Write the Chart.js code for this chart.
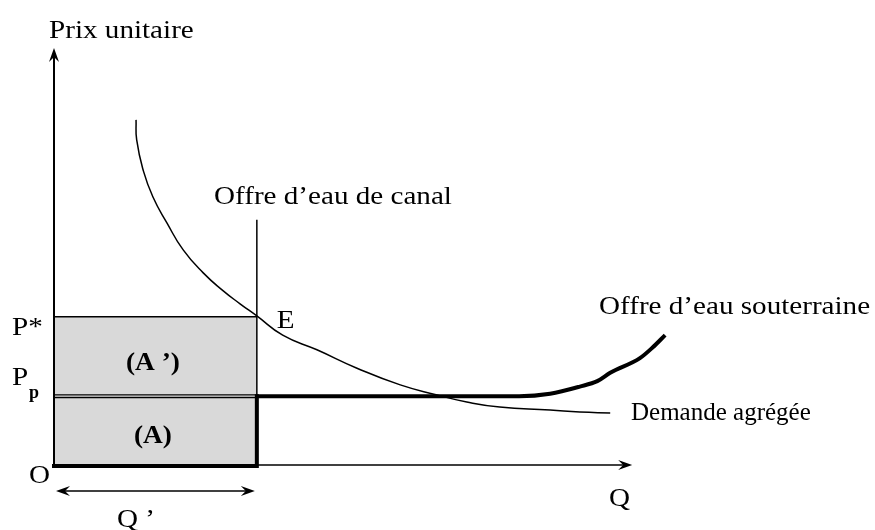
<!DOCTYPE html>
<html>
<head>
<meta charset="utf-8">
<script src="https://cdn.jsdelivr.net/npm/chart.js@4"></script>
<style>
  body { margin: 0; background: #fff; }
  canvas { display: block; }
</style>
</head>
<body>
<canvas id="chart" width="875" height="530"></canvas>
<script>
// key levels (arbitrary units, origin = O)
const qPrime = 31.4;      // Q'
const pStar = 35.7;       // P*
const pP = 16.7;          // Pp
const canalTop = 58.9;
const xAxisEnd = 89.5;
const yAxisEnd = 100;

// demande agrégée
const demandQ = [12.7, 12.8, 13.8, 15.3, 17.5, 20.0, 23.1, 26.2, 28.8, 31.4, 35.4, 40.7, 46.9, 53.6, 59.3, 63.9, 69.0, 76.8, 81.4, 86.1];
const demandP = [82.8, 78.0, 70.8, 64.4, 58.1, 51.7, 46.2, 41.9, 38.8, 35.9, 31.3, 27.8, 23.4, 19.4, 17.0, 15.3, 14.1, 13.4, 12.9, 12.7];

// offre d'eau souterraine (after the flat part)
const groundQ = [qPrime, 72.0, 76.8, 81.4, 84.1, 86.1, 90.7, 92.7, 94.6];
const groundP = [pP, pP, 17.3, 19.0, 20.3, 22.3, 25.8, 28.4, 31.3];

const toPoints = (xs, ys) => xs.map((x, i) => ({ x: x, y: ys[i] }));

const serif = '"Liberation Serif", "Times New Roman", serif';

function stretchText(ctx, text, x, y, size, bold, sx) {
    ctx.save();
    ctx.font = (bold ? 'bold ' : '') + size + 'px ' + serif;
    ctx.fillStyle = '#000';
    ctx.textBaseline = 'alphabetic';
    ctx.translate(x, y);
    ctx.scale(sx, 1);
    ctx.fillText(text, 0, 0);
    ctx.restore();
}

function arrowHead(ctx, x, y, dir) {
    ctx.beginPath();
    if (dir === 'up') {
        ctx.moveTo(x - 5, y + 14);
        ctx.lineTo(x, y);
        ctx.lineTo(x + 5, y + 14);
        ctx.lineTo(x, y + 9);
    } else if (dir === 'right') {
        ctx.moveTo(x - 14, y - 5);
        ctx.lineTo(x, y);
        ctx.lineTo(x - 14, y + 5);
        ctx.lineTo(x - 9, y);
    } else {
        ctx.moveTo(x + 14, y - 5);
        ctx.lineTo(x, y);
        ctx.lineTo(x + 14, y + 5);
        ctx.lineTo(x + 9, y);
    }
    ctx.closePath();
    ctx.fill();
}

const diagramPlugin = {
    id: 'diagram',
    afterDatasetsDraw(chart) {
        const ctx = chart.ctx;
        const xs = chart.scales.x;
        const ys = chart.scales.y;
        const x0 = xs.getPixelForValue(0);
        const y0 = ys.getPixelForValue(0);

        ctx.save();
        ctx.strokeStyle = '#000';
        ctx.fillStyle = '#000';
        ctx.lineWidth = 2;

        // axes
        ctx.beginPath();
        ctx.moveTo(x0, y0);
        ctx.lineTo(x0, ys.getPixelForValue(yAxisEnd) + 6);
        ctx.stroke();
        arrowHead(ctx, x0, ys.getPixelForValue(yAxisEnd), 'up');

        ctx.lineWidth = 1.5;
        ctx.beginPath();
        ctx.moveTo(x0, y0 - 1);
        ctx.lineTo(xs.getPixelForValue(xAxisEnd) - 6, y0 - 1);
        ctx.stroke();
        arrowHead(ctx, xs.getPixelForValue(xAxisEnd), y0 - 1, 'right');

        // Q' double arrow
        const qy = y0 + 25;
        const qx1 = xs.getPixelForValue(qPrime) - 2;
        ctx.beginPath();
        ctx.moveTo(x0 + 6, qy);
        ctx.lineTo(qx1 - 6, qy);
        ctx.stroke();
        arrowHead(ctx, x0 + 2, qy, 'left');
        arrowHead(ctx, qx1, qy, 'right');
        ctx.restore();

        // labels
        const sx = 1.12;
        stretchText(ctx, 'Prix unitaire', 49, 38, 26, false, sx);
        stretchText(ctx, 'Offre d\u2019eau de canal', 214, 204, 26, false, sx);
        stretchText(ctx, 'Offre d\u2019eau souterraine', 599, 314, 26, false, sx);
        stretchText(ctx, 'Demande agr\u00e9g\u00e9e', 631, 420, 25, false, 1.0);
        stretchText(ctx, 'E', xs.getPixelForValue(qPrime) + 20, ys.getPixelForValue(pStar) + 11, 26, false, sx);
        stretchText(ctx, 'P*', 12, ys.getPixelForValue(pStar) + 18, 26, false, sx);
        stretchText(ctx, 'P', 12, ys.getPixelForValue(pP) - 11, 26, false, sx);
        stretchText(ctx, 'p', 29, ys.getPixelForValue(pP) + 2, 18, true, 1.0);
        stretchText(ctx, '(A \u2019)', 126, 370, 26, true, 1.05);
        stretchText(ctx, '(A)', 134, 443, 26, true, 1.05);
        stretchText(ctx, 'O', 29, y0 + 17, 26, false, sx);
        stretchText(ctx, 'Q', 609, 506, 26, false, sx);
        stretchText(ctx, 'Q \u2019', 117, y0 + 61, 26, false, sx);
    }
};

new Chart(document.getElementById('chart'), {
    type: 'scatter',
    data: {
        datasets: [
            {
                // shaded (A) + (A') area, drawn underneath
                data: toPoints([0, qPrime], [pStar, pStar]),
                showLine: true,
                fill: 'origin',
                backgroundColor: '#d9d9d9',
                borderColor: '#000',
                borderWidth: 1.5,
                pointRadius: 0,
                order: 10
            },
            {
                // Pp level (double line)
                data: toPoints([0, qPrime], [pP, pP]),
                showLine: true,
                borderColor: '#000',
                borderWidth: 4,
                pointRadius: 0,
                order: 6
            },
            {
                data: toPoints([0, qPrime], [pP, pP]),
                showLine: true,
                borderColor: '#e6e6e6',
                borderWidth: 1.2,
                pointRadius: 0,
                order: 5
            },
            {
                // offre d'eau de canal
                data: toPoints([qPrime, qPrime], [pP, canalTop]),
                showLine: true,
                borderColor: '#000',
                borderWidth: 1.5,
                pointRadius: 0,
                order: 4
            },
            {
                // Q' on the floor, then up to Pp
                data: toPoints([0, qPrime, qPrime], [0, 0, pP]),
                showLine: true,
                borderColor: '#000',
                borderWidth: 4,
                borderCapStyle: 'square',
                pointRadius: 0,
                order: 3
            },
            {
                // offre d'eau souterraine
                data: toPoints(groundQ, groundP),
                showLine: true,
                borderColor: '#000',
                borderWidth: 4,
                cubicInterpolationMode: 'monotone',
                pointRadius: 0,
                order: 2
            },
            {
                // demande agrégée
                data: toPoints(demandQ, demandP),
                showLine: true,
                borderColor: '#000',
                borderWidth: 1.5,
                tension: 0.5,
                pointRadius: 0,
                order: 1
            }
        ]
    },
    options: {
        responsive: false,
        animation: false,
        events: [],
        clip: false,
        layout: { padding: { left: 54, right: 175, top: 48, bottom: 64 } },
        plugins: { legend: { display: false }, tooltip: { enabled: false } },
        scales: {
            x: { type: 'linear', min: 0, max: 100, display: false },
            y: { type: 'linear', min: 0, max: 100, display: false }
        }
    },
    plugins: [diagramPlugin]
});
</script>
</body>
</html>
